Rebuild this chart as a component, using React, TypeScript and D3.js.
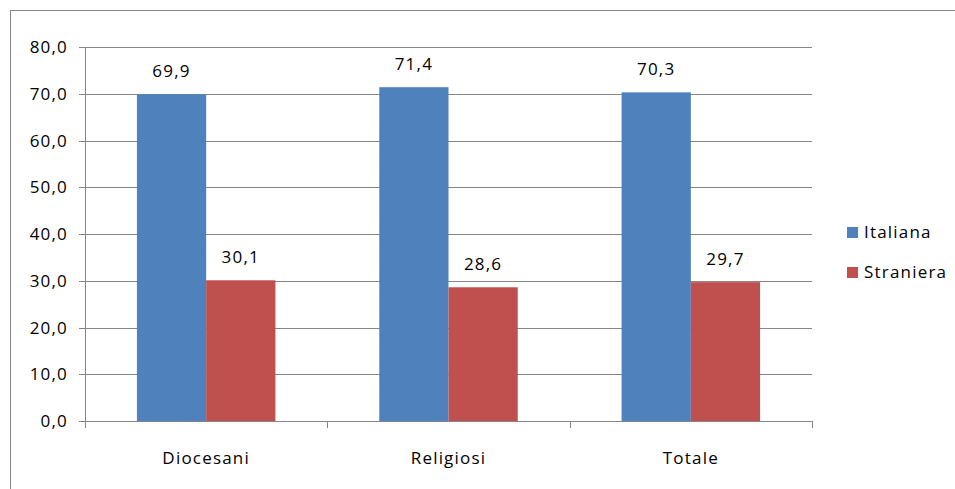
import * as d3 from 'd3';
import React from 'react';

const categories = ['Diocesani', 'Religiosi', 'Totale'];
const seriesNames = ['Italiana', 'Straniera'];
const italiana = [69.9, 71.4, 70.3];
const straniera = [30.1, 28.6, 29.7];
const yTicks = [0, 10, 20, 30, 40, 50, 60, 70, 80];

const colors = ['#4F81BD', '#C0504D'];
const font = "'Open Sans', 'Noto Sans', sans-serif";
const spacing = 1.2;

export default function App() {
  const width = 955;
  const height = 489;
  const margin = { top: 47, right: 143, bottom: 68, left: 85 };
  const innerW = width - margin.left - margin.right;
  const innerH = height - margin.top - margin.bottom;

  const x = d3.scaleBand().domain(categories).range([0, innerW]);
  // Excel gap width 150%: two bars + 1.5 bar widths per band
  const barW = x.bandwidth() / 3.5;
  const y = d3.scaleLinear().domain([0, 80]).range([innerH, 0]);
  const fmt = (v: number) => v.toFixed(1).replace('.', ',');
  const series = [italiana, straniera];

  return (
    <svg width={width} height={height} style={{ position: 'absolute', left: 0, top: 0 }}>
      <rect x={10.5} y={10.5} width={960} height={500} fill="white" stroke="#868686" />
      <g
        transform={`translate(${margin.left},${margin.top})`}
        fontFamily={font}
        letterSpacing={spacing}
      >
        {yTicks.map((t) => (
          <g key={t} transform={`translate(0,${Math.round(y(t)) + 0.5})`}>
            <line x1={-6} x2={innerW} stroke="#868686" />
            <text x={-17} dy="0.35em" textAnchor="end" fontSize={17} fill="#000">
              {fmt(t)}
            </text>
          </g>
        ))}
        <line x1={0.5} x2={0.5} y1={0} y2={innerH} stroke="#868686" />
        {d3.range(categories.length + 1).map((i) => {
          const px = Math.round(i * x.step()) + 0.5;
          return <line key={i} x1={px} x2={px} y1={innerH} y2={innerH + 7} stroke="#868686" />;
        })}
        {categories.map((c, ci) => {
          const x0 = (x(c) ?? 0) + x.bandwidth() / 2 - barW;
          return (
            <g key={c}>
              {series.map((s, si) => (
                <g key={si}>
                  <rect
                    x={x0 + si * barW}
                    y={y(s[ci])}
                    width={barW}
                    height={innerH - y(s[ci])}
                    fill={colors[si]}
                  />
                  <text
                    x={x0 + si * barW + barW / 2}
                    y={y(s[ci]) - 17}
                    textAnchor="middle"
                    fontSize={17}
                    fill="#000"
                  >
                    {fmt(s[ci])}
                  </text>
                </g>
              ))}
              <text
                x={(x(c) ?? 0) + x.bandwidth() / 2}
                y={innerH + 43}
                textAnchor="middle"
                fontSize={17}
                fill="#000"
              >
                {c}
              </text>
            </g>
          );
        })}
      </g>
      <g fontFamily={font} letterSpacing={spacing}>
        {seriesNames.map((n, i) => (
          <g key={n} transform={`translate(847,${227 + i * 40})`}>
            <rect width={11} height={11} fill={colors[i]} />
            <text x={17} y={5.5} dy="0.35em" fontSize={17} fill="#000">
              {n}
            </text>
          </g>
        ))}
      </g>
    </svg>
  );
}
